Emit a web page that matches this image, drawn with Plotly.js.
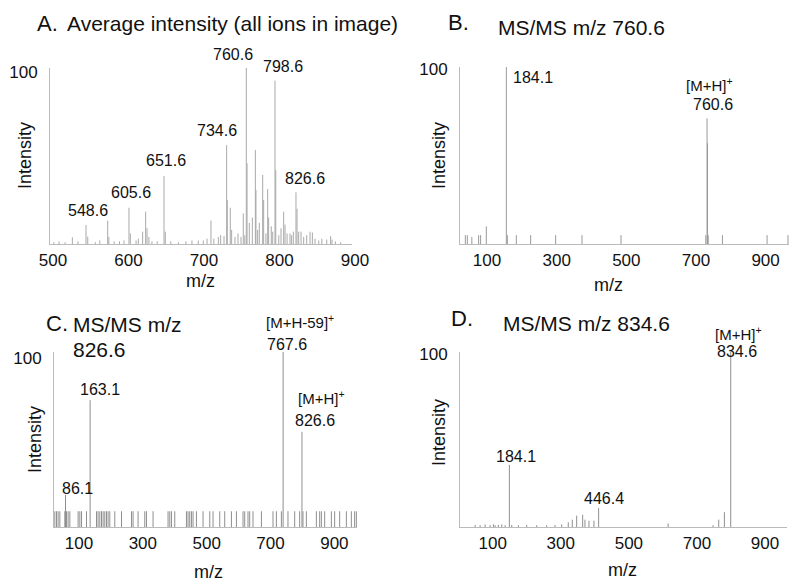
<!DOCTYPE html>
<html>
<head>
<meta charset="utf-8">
<script src="https://cdn.plot.ly/plotly-3.0.1.min.js"></script>
<style>html,body{margin:0;padding:0;background:#fff}#chart{width:800px;height:584px}</style>
</head>
<body>
<div id="chart"></div>
<script>
// ---- Panel A: average intensity (all ions in image) ----
const mzA  = [505,512,520,529.6,537,547.7,550,560,566,576.4,578,585,592,598,604.6,606.4,614,617,622.7,626.7,628.5,631,635,642,651,652.7,660,670,680,688,696.4,703,708,713.2,717,723,726,730.5,734,734.8,738.8,740.6,745,749,753,756,758,760,761,764,768,772,772.8,775,777.2,781.7,783,786,788.3,789.6,793.1,795,798,799,803,806,809.5,811.3,814,817.9,820,822.3,825.8,827.2,829.4,832.5,836,840,844.4,847.5,851,856,860,866.5,871.7,873.5,878,885];
const intA = [1,1.5,1,3.8,1.5,10.8,4.2,1,2,13.3,4,1.5,1.5,2,20.6,6,2,3,7,18.4,9,4,1.5,1.5,38.6,7,1.5,1,1.5,2,2,2,3,13.3,3,4,5,4.5,56.2,25,20.6,8,4,6,4,17.4,5,100,45.8,12,15,53.4,30.7,8,12,39.2,25,6,31.2,15,10,7,92.8,42,5,9,18.4,11,6,6,5,7,29.4,20,7,7,4,5,7,6.5,3,2,3,2.5,4.5,2.5,1.5,1];
const ticksA = [500,600,700,800,900];

// ---- Panel B: MS/MS m/z 760.6 ----
const mzB  = [66.3,72,85,104.5,110.2,126.6,184.1,187,212.8,254,325.8,401.4,513.4,757,760.6,762,764,804.8,933,993];
const intB = [5,5,4,5,5,10,100,5,5,5,5,5,5,5,71,57,5,5,5,5];

// ---- Panel C: MS/MS m/z 826.6 ----
const mzC  = [52.6,57.9,62.9,68.3,83.9,86.1,89.2,94.2,99.6,125.5,130.9,136.2,151.8,163.1,183.1,188.1,193.5,198.8,203.8,209.1,214.4,219.4,224.8,240.4,261.4,292.7,297.7,313.3,334.3,339.6,360.3,407.2,412.6,417.9,428.2,464.8,469.8,475.1,480.5,485.5,496.1,516.8,537.8,548.1,569.1,584.7,605.7,621.3,642,647.3,657.6,662.9,673.3,699.6,735.9,746.5,762.2,767.6,782.8,803.8,819.4,826.6,829.8,840.4,871.7,882.1,887.4,897.7,918.7,929,944.7,965.7,981.3,991.6,997];
const intC = [9,9,9,9,9,18.4,9,9,9,9,9,9,9,72.5,9,9,9,9,9,9,9,9,9,9,9,9,9,9,9,9,9,9,9,9,9,9,9,9,9,9,9,9,9,9,9,9,9,9,9,9,9,9,9,9,9,9,9,100,9,9,9,54.4,9,9,9,9,9,9,9,9,9,9,9,9,9];

// ---- Panel D: MS/MS m/z 834.6 ----
const mzD  = [83.5,98.1,112.8,127.5,137.2,142.1,151.8,161.8,171.5,184.1,191.1,210.5,235.2,264.5,293.8,318.2,337.9,357.2,369,381.9,399.5,406.2,418,432.6,446.4,650.7,782.7,799.4,816,834.6];
const intD = [1.2,1,1.5,1.2,1.5,1,1.2,1.5,1,35.5,1.2,1,1.2,1,1,1.2,1.5,2.7,4.2,6.5,7,4.2,3.6,3.6,10.8,2,1,4.2,8.5,100];
const ticksMS = [100,300,500,700,900];

function sticks(mz, inten) {
  const x = [], y = [];
  mz.forEach((m, i) => { x.push(m, m, null); y.push(0, inten[i], null); });
  return {x, y};
}
function trace(mz, inten, xa, ya, color) {
  const s = sticks(mz, inten);
  return {type:'scatter', mode:'lines', x:s.x, y:s.y, xaxis:xa, yaxis:ya,
          line:{color:color, width:1}, hoverinfo:'skip', showlegend:false};
}
const data = [
  trace(mzA, intA, 'x',  'y',  '#a9a9a9'),
  trace(mzB, intB, 'x2', 'y2', '#9a9a9a'),
  trace(mzC, intC, 'x3', 'y3', '#8f8f8f'),
  trace(mzD, intD, 'x4', 'y4', '#8f8f8f')
];

const W = 800, H = 584;
const FONT = 'Liberation Sans, Arial, Helvetica, sans-serif';
function xax(l, r, range, ticks, shift, anchor) {
  return {domain:[l/W, r/W], range:range, anchor:anchor, showgrid:false, zeroline:false,
          showline:true, linecolor:'#bbbbbb', linewidth:1, ticks:'',
          tickmode:'array', tickvals:ticks, ticktext:ticks.map(String),
          ticklabelshift:shift, ticklabelstandoff:1, tickfont:{size:17, color:'#111'}};
}
function yax(t, b, anchor, shift) {
  return {domain:[1-b/H, 1-t/H], range:[0,100], anchor:anchor, showgrid:false, zeroline:false,
          showline:true, linecolor:'#bbbbbb', linewidth:1, ticks:'',
          tickmode:'array', tickvals:[100], ticktext:['100'], ticklabelstandoff:8,
          ticklabelshift:shift, tickfont:{size:17, color:'#111'}};
}
function ann(text, x, y, size, anchor, angle, yanchor) {
  return {text:text, x:x/W, y:1-y/H, xref:'paper', yref:'paper', xanchor:anchor||'center',
          yanchor:yanchor||'middle', showarrow:false, textangle:angle||0,
          font:{size:size, color:'#111', family:FONT}};
}
const annotations = [
  // panel titles
  ann('A.', 35, 24, 22, 'left'),
  ann('Average intensity (all ions in image)', 65, 24, 21, 'left'),
  ann('B.', 446, 23, 22, 'left'),
  ann('MS/MS m/z 760.6', 496, 28, 21, 'left'),
  ann('C.', 44, 323, 22, 'left'),
  ann('MS/MS m/z', 71, 325, 21, 'left'),
  ann('826.6', 71, 349, 21, 'left'),
  ann('D.', 449, 318, 22, 'left'),
  ann('MS/MS m/z 834.6', 501, 323, 21, 'left'),
  // axis titles
  ann('m/z', 200, 281, 18), ann('Intensity', 25, 156, 18, 'center', -90),
  ann('m/z', 608, 285, 18), ann('Intensity', 439, 155, 18, 'center', -90),
  ann('m/z', 208, 572, 18), ann('Intensity', 35, 440, 18, 'center', -90),
  ann('m/z', 622, 570, 18), ann('Intensity', 439, 432, 18, 'center', -90),
  // peak labels A
  ann('760.6', 233, 55, 16), ann('798.6', 283, 66, 16), ann('734.6', 217, 130, 16),
  ann('651.6', 166, 161, 16), ann('605.6', 131, 193, 16), ann('548.6', 88, 211, 16),
  ann('826.6', 305, 179, 16),
  // B
  ann('184.1', 533, 77, 16),
  ann('[M+H]<sup>+</sup>', 709, 96, 15, 'center', 0, 'bottom'),
  ann('760.6', 713, 94, 16, 'center', 0, 'top'),
  // C
  ann('[M+H-59]<sup>+</sup>', 300, 333, 15, 'center', 0, 'bottom'),
  ann('767.6', 287, 334, 16, 'center', 0, 'top'),
  ann('163.1', 100, 389, 16),
  ann('[M+H]<sup>+</sup>', 321, 409, 15, 'center', 0, 'bottom'),
  ann('826.6', 315, 410, 16, 'center', 0, 'top'),
  ann('86.1', 77, 488, 16),
  // D
  ann('[M+H]<sup>+</sup>', 738, 345, 15, 'center', 0, 'bottom'),
  ann('834.6', 737, 341, 16, 'center', 0, 'top'),
  ann('184.1', 516, 456, 16),
  ann('446.4', 604, 498, 16)
];

const layout = {
  width:W, height:H, autosize:false, margin:{l:0, r:0, t:0, b:0},
  paper_bgcolor:'#fff', plot_bgcolor:'#fff', showlegend:false,
  font:{family:FONT, color:'#111'},
  xaxis:  xax(50, 352, [500, 900], ticksA, 3, 'y'),
  yaxis:  yax(68, 244, 'x', 4),
  xaxis2: xax(460, 789, [51, 996], ticksMS, 10, 'y2'),
  yaxis2: yax(67, 244, 'x2', 2),
  xaxis3: xax(54, 357, [50, 999], ticksMS, 9, 'y3'),
  yaxis3: yax(352, 527, 'x3', 6),
  xaxis4: xax(460, 787, [39, 1000], ticksMS, 12, 'y4'),
  yaxis4: yax(352, 527, 'x4', 2),
  annotations:annotations
};
Plotly.newPlot('chart', data, layout, {staticPlot:true, displayModeBar:false});
</script>
</body>
</html>
